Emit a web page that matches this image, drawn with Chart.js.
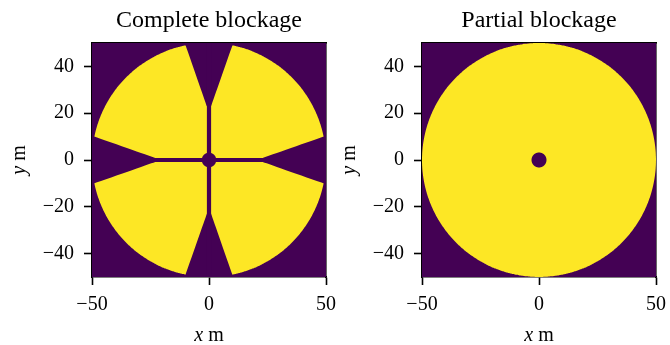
<!DOCTYPE html>
<html>
<head>
<meta charset="utf-8">
<script src="https://cdn.jsdelivr.net/npm/chart.js@4.4.1/dist/chart.umd.min.js"></script>
<style>
  html, body { margin: 0; padding: 0; background: #fff; }
  #wrap { position: relative; width: 670px; height: 345px; overflow: hidden; }
  .panel { position: absolute; top: 0; width: 340px; height: 345px; }
  .axlabel {
    position: absolute;
    font-family: 'Liberation Serif', 'DejaVu Serif', serif;
    font-size: 20px;
    line-height: 1;
    color: #000;
    white-space: nowrap;
  }
</style>
</head>
<body>
<div id="wrap">
  <div class="panel" style="left:0px"><canvas id="c0" width="340" height="345"></canvas></div>
  <div class="panel" style="left:330px"><canvas id="c1" width="340" height="345"></canvas></div>
  <div class="axlabel" style="left:209px; top:334px; transform:translate(-50%,-50%)"><i>x</i> m</div>
  <div class="axlabel" style="left:539px; top:334px; transform:translate(-50%,-50%)"><i>x</i> m</div>
  <div class="axlabel" style="left:18px; top:160px; transform:translate(-50%,-50%) rotate(-90deg)"><i>y</i> m</div>
  <div class="axlabel" style="left:348px; top:160px; transform:translate(-50%,-50%) rotate(-90deg)"><i>y</i> m</div>
</div>
<script>
// --- values ---
const panelTitles = ['Complete blockage', 'Partial blockage'];
const axisMin = -50;
const axisMax = 50;
const xTickValues = [-50, 0, 50];
const yTickValues = [-40, -20, 0, 20, 40];
const apertureRadius = [50, 50];      // m, outer rim of the dish
const obstructionRadius = [3.1, 3.2]; // m, central blockage
const spiderHalfWidth = [0.9, 0];     // m, 0 = no struts
const wedgeStart = [23, 0];           // m from centre where the wedge opens
const wedgeHalfWidthAtRim = [10, 0];  // m, half width of the wedge at the rim

const DARK = '#440154';
const YELLOW = '#fde725';
const FONT = "'Liberation Serif', 'DejaVu Serif', serif";

// --- shape helpers (polygons in data units) ---
function circlePoints(r) {
  const pts = [];
  for (let i = 0; i <= 360; i++) {
    const a = i * Math.PI / 180;
    pts.push({ x: r * Math.cos(a), y: r * Math.sin(a) });
  }
  return pts;
}

function rectPoints(x0, y0, x1, y1) {
  return [{ x: x0, y: y0 }, { x: x1, y: y0 }, { x: x1, y: y1 }, { x: x0, y: y1 }, { x: x0, y: y0 }];
}

function rotate90(pts, k) {
  return pts.map(p => {
    let x = p.x, y = p.y;
    for (let i = 0; i < k; i++) { const t = x; x = -y; y = t; }
    return { x, y };
  });
}

// wedge pointing up, opening at d0 and reaching half width W at the rim
function wedgePoints(R, s, d0, W) {
  const yRim = Math.sqrt(R * R - W * W);
  const yOut = R + 6; // past the edge, clipped by the chart area
  const xOut = s + (W - s) * (yOut - d0) / (yRim - d0);
  return [{ x: -s, y: d0 }, { x: s, y: d0 }, { x: xOut, y: yOut }, { x: -xOut, y: yOut }, { x: -s, y: d0 }];
}

function shape(points, color, order) {
  return {
    data: points,
    showLine: true,
    fill: 'shape',
    backgroundColor: color,
    borderColor: 'rgba(0,0,0,0)',
    borderWidth: 0,
    pointRadius: 0,
    tension: 0.0001,          // keeps Chart.js off its pixel-collapsing fast path
    capBezierPoints: false,
    order: order
  };
}

function buildDatasets(i) {
  const R = apertureRadius[i];
  const sets = [];
  sets.push(shape(rectPoints(axisMin, axisMin, axisMax, axisMax), DARK, 3));
  sets.push(shape(circlePoints(R), YELLOW, 2));
  const s = spiderHalfWidth[i];
  if (s > 0) {
    sets.push(shape(rectPoints(-s, axisMin - 5, s, axisMax + 5), DARK, 1));
    sets.push(shape(rectPoints(axisMin - 5, -s, axisMax + 5, s), DARK, 1));
  }
  if (wedgeHalfWidthAtRim[i] > 0) {
    const w = wedgePoints(R, s, wedgeStart[i], wedgeHalfWidthAtRim[i]);
    for (let k = 0; k < 4; k++) sets.push(shape(rotate90(w, k), DARK, 1));
  }
  sets.push(shape(circlePoints(obstructionRadius[i]), DARK, 0));
  return sets;
}

function minusSign(v) {
  return String(v).replace('-', '\u2212');
}

function makeChart(i) {
  const ctx = document.getElementById('c' + i).getContext('2d');
  const tickFont = { family: FONT, size: 20 };
  const frame = { display: true, color: '#000', width: 1.6 };
  return new Chart(ctx, {
    type: 'scatter',
    data: { datasets: buildDatasets(i) },
    options: {
      responsive: false,
      animation: false,
      events: [],
      layout: { padding: { left: 0, right: 14, top: 0, bottom: 0 } },
      plugins: {
        legend: { display: false },
        tooltip: { enabled: false },
        title: {
          display: true,
          text: panelTitles[i],
          fullSize: false,
          color: '#000',
          font: { family: FONT, size: 24, weight: 'normal', lineHeight: 1.2 },
          padding: { top: 6, bottom: 8.2 }
        }
      },
      scales: {
        x: {
          type: 'linear',
          position: 'bottom',
          min: axisMin,
          max: axisMax,
          afterBuildTicks: sc => { sc.ticks = xTickValues.map(v => ({ value: v })); },
          afterFit: sc => { sc.height = 68; sc.paddingLeft = 0; sc.paddingRight = 0; },
          grid: { drawOnChartArea: false, drawTicks: true, tickLength: 8, tickWidth: 1.6, tickColor: '#000' },
          border: frame,
          ticks: { color: '#000', font: tickFont, padding: 8, maxRotation: 0, callback: minusSign }
        },
        y: {
          type: 'linear',
          position: 'left',
          min: axisMin,
          max: axisMax,
          afterBuildTicks: sc => { sc.ticks = yTickValues.map(v => ({ value: v })); },
          afterFit: sc => { sc.width = 92; sc.paddingTop = 0; sc.paddingBottom = 0; },
          grid: { drawOnChartArea: false, drawTicks: true, tickLength: 8, tickWidth: 1.6, tickColor: '#000' },
          border: frame,
          ticks: { color: '#000', font: tickFont, padding: 10, callback: minusSign }
        },
        x2: {
          type: 'linear',
          position: 'top',
          min: axisMin,
          max: axisMax,
          afterFit: sc => { sc.height = 0; sc.paddingLeft = 0; sc.paddingRight = 0; },
          grid: { drawOnChartArea: false, drawTicks: false },
          border: frame,
          ticks: { display: false }
        },
        y2: {
          type: 'linear',
          position: 'right',
          min: axisMin,
          max: axisMax,
          afterFit: sc => { sc.width = 0; sc.paddingTop = 0; sc.paddingBottom = 0; },
          grid: { drawOnChartArea: false, drawTicks: false },
          border: frame,
          ticks: { display: false }
        }
      }
    }
  });
}

makeChart(0);
makeChart(1);
</script>
</body>
</html>
